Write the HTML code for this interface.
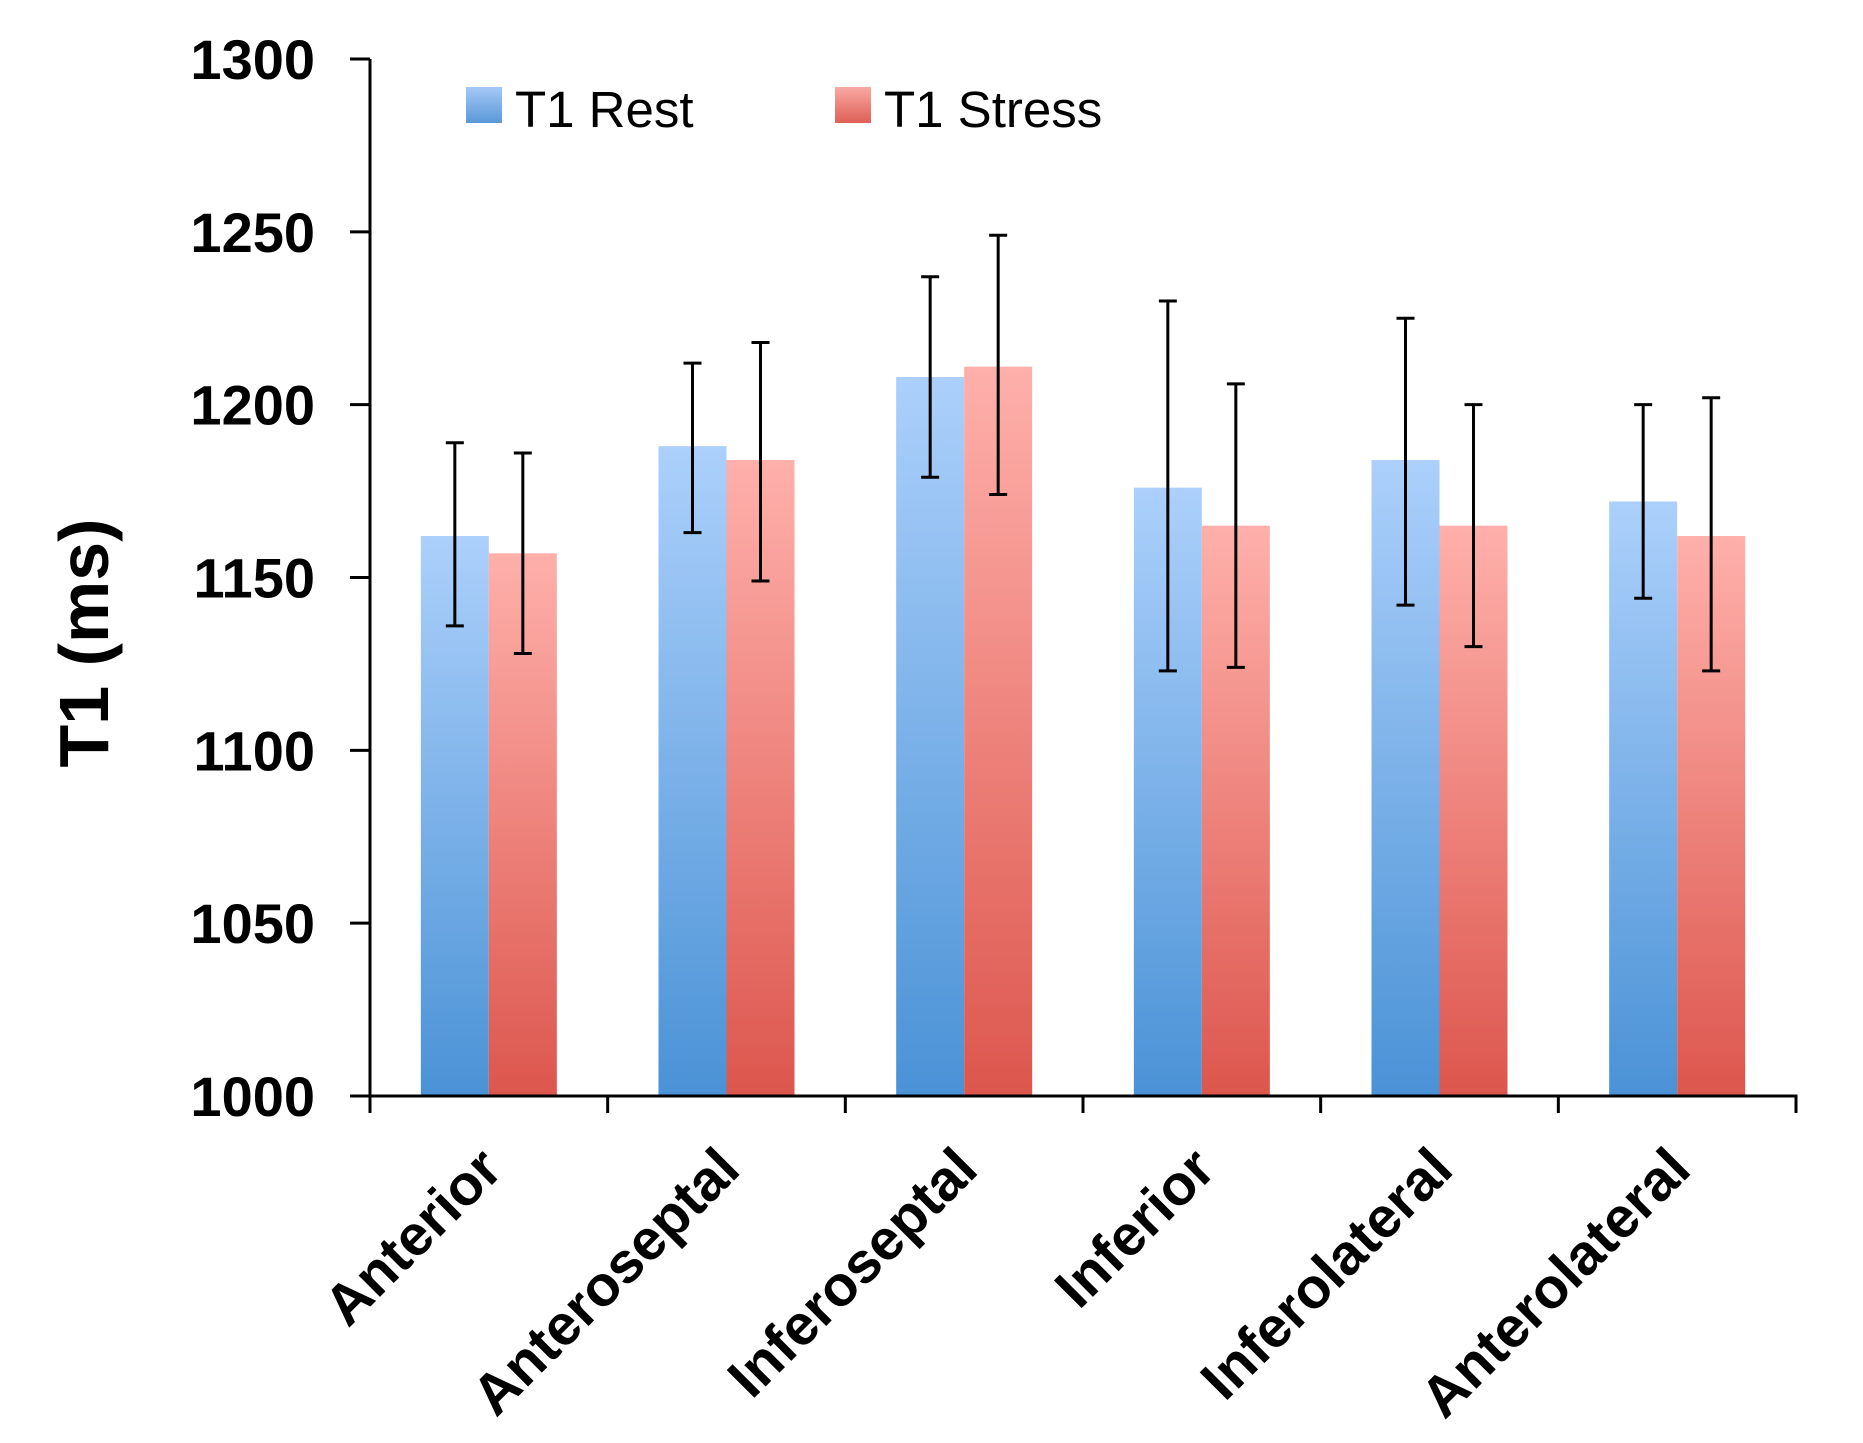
<!DOCTYPE html>
<html><head><meta charset="utf-8"><style>
html,body{margin:0;padding:0;background:#fff;}
svg{display:block;font-family:"Liberation Sans",sans-serif;}
</style></head><body>
<svg id="chart" width="1863" height="1443" viewBox="0 0 1863 1443">
<defs>
<linearGradient id="gBlue" x1="0" y1="0" x2="0" y2="1"><stop offset="0" stop-color="#acd0fb"/><stop offset="1" stop-color="#4a92d6"/></linearGradient>
<linearGradient id="gRed" x1="0" y1="0" x2="0" y2="1"><stop offset="0" stop-color="#ffb0ab"/><stop offset="1" stop-color="#dc564d"/></linearGradient>
<linearGradient id="lBlue" x1="0" y1="0" x2="0" y2="1"><stop offset="0" stop-color="#a4c9f7"/><stop offset="1" stop-color="#5a98d8"/></linearGradient>
<linearGradient id="lRed" x1="0" y1="0" x2="0" y2="1"><stop offset="0" stop-color="#f9a9a3"/><stop offset="1" stop-color="#df5f57"/></linearGradient>
</defs>
<g id="marks"></g>
<g id="axes"></g>
<text x="0" y="0" transform="translate(108,643) rotate(-90)" text-anchor="middle" font-size="70" font-weight="bold">T1  (ms)</text>
<g>
<rect x="466" y="87" width="36" height="36" fill="url(#lBlue)"/>
<text x="515" y="127" font-size="51">T1 Rest</text>
<rect x="835" y="87" width="36" height="36" fill="url(#lRed)"/>
<text x="884" y="127" font-size="51">T1 Stress</text>
</g>
</svg>
<script>
const categories = ["Anterior","Anteroseptal","Inferoseptal","Inferior","Inferolateral","Anterolateral"];
const restValues = [1162,1188,1208,1176,1184,1172];
const restUpper = [1189,1212,1237,1230,1225,1200];
const restLower = [1136,1163,1179,1123,1142,1144];
const stressValues = [1157,1184,1211,1165,1165,1162];
const stressUpper = [1186,1218,1249,1206,1200,1202];
const stressLower = [1128,1149,1174,1124,1130,1123];
const yTicks = [1000,1050,1100,1150,1200,1250,1300];

const NS = "http://www.w3.org/2000/svg";
const X0 = 370, X1 = 1796, Y0 = 1096, Y1 = 59, VMIN = 1000, VMAX = 1300;
const catW = (X1 - X0) / categories.length;
const barW = 68;
function yScale(v){ return Y0 - (v - VMIN) / (VMAX - VMIN) * (Y0 - Y1); }
function xCenter(i){ return X0 + catW * (i + 0.5); }
function mk(tag, attrs, parent){ const e = document.createElementNS(NS, tag); for (const k in attrs) e.setAttribute(k, attrs[k]); parent.appendChild(e); return e; }
const marks = document.getElementById('marks');
const axes = document.getElementById('axes');

function errBar(x, hi, lo, name){
  const g = mk('g', {stroke:'#000','stroke-width':3}, marks);
  
  
  mk('line', {x1:x, x2:x, y1:yScale(hi), y2:yScale(lo)}, g);
  mk('line', {x1:x-9, x2:x+9, y1:yScale(hi), y2:yScale(hi)}, g);
  mk('line', {x1:x-9, x2:x+9, y1:yScale(lo), y2:yScale(lo)}, g);
}

categories.forEach((c, i) => {
  const cx = xCenter(i);
  const r = mk('rect', {x:cx - barW, y:yScale(restValues[i]), width:barW, height:Y0 - yScale(restValues[i]), fill:'url(#gBlue)'}, marks);
  
  
  const s = mk('rect', {x:cx, y:yScale(stressValues[i]), width:barW, height:Y0 - yScale(stressValues[i]), fill:'url(#gRed)'}, marks);
  
  
  errBar(cx - barW/2, restUpper[i], restLower[i], 'error-bar-rest-' + c.toLowerCase());
  errBar(cx + barW/2, stressUpper[i], stressLower[i], 'error-bar-stress-' + c.toLowerCase());
  const t = mk('text', {x:0, y:0, transform:'translate(' + (cx + 16) + ',1172) rotate(-45)', 'text-anchor':'end', 'font-size':57, 'font-weight':'bold'}, axes);
  t.textContent = c;
  
  
});

const ya = mk('line', {x1:X0, x2:X0, y1:Y1, y2:Y0, stroke:'#000', 'stroke-width':3}, axes);


const xa = mk('line', {x1:X0 - 20, x2:X1 + 1.5, y1:Y0, y2:Y0, stroke:'#000', 'stroke-width':3}, axes);


yTicks.forEach(v => {
  const y = yScale(v);
  const tk = mk('line', {x1:X0 - 20, x2:X0, y1:y, y2:y, stroke:'#000', 'stroke-width':3}, axes);
  
  
  const lb = mk('text', {x:315, y:y + 20, 'text-anchor':'end', 'font-size':56, 'font-weight':'bold'}, axes);
  lb.textContent = v;
  
  
});
for (let i = 0; i <= categories.length; i++) {
  const x = X0 + catW * i;
  const tk = mk('line', {x1:x, x2:x, y1:Y0, y2:Y0 + 17, stroke:'#000', 'stroke-width':3}, axes);
  
  
}
</script>
</body></html>
